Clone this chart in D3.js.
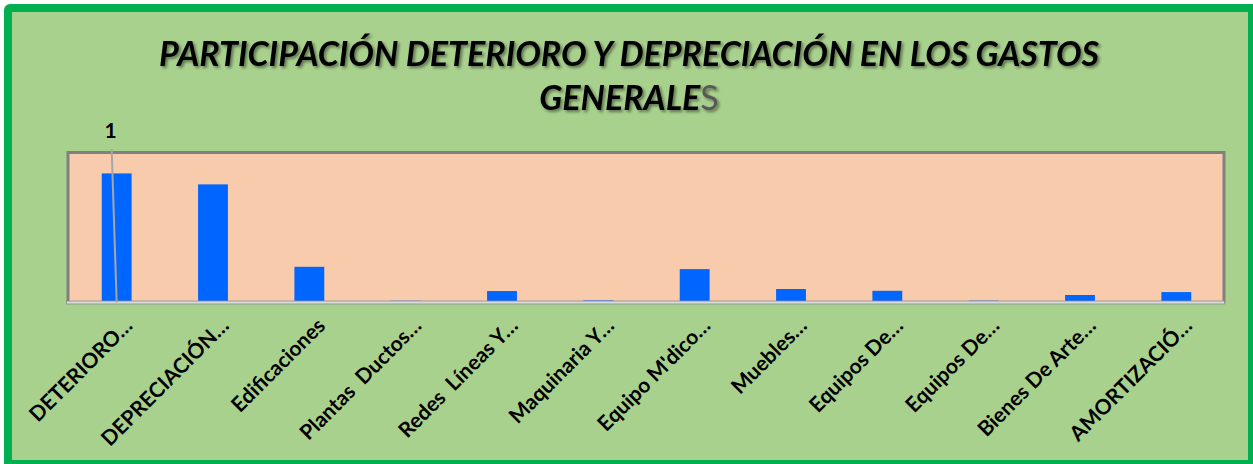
<!DOCTYPE html>
<html>
<head>
<meta charset="utf-8">
<script src="https://cdn.jsdelivr.net/npm/d3@7"></script>
<style>
  html, body { margin: 0; padding: 0; background: #fff; }
  svg { display: block; }
</style>
</head>
<body>
<div id="chart"></div>
<script>
const categories = [
  "DETERIORO…", "DEPRECIACIÓN…", "Edificaciones", "Plantas  Ductos…",
  "Redes  Líneas Y…", "Maquinaria Y…", "Equipo M'dico…", "Muebles…",
  "Equipos De…", "Equipos De…", "Bienes De Arte…", "AMORTIZACIÓ…"
];
const values = [1, 0.914, 0.268, 0.002, 0.078, 0.005, 0.25, 0.094, 0.08, 0.003, 0.047, 0.07];
const dataLabels = [{ index: 0, text: "1" }];
const yMax = 1.16;

const width = 1253, height = 464;
const plot = { left: 68.5, right: 1224.5, top: 153, bottom: 301 };
const font = "Lato, 'Open Sans', sans-serif";

const svg = d3.select("#chart").append("svg")
  .attr("width", width)
  .attr("height", height);

const defs = svg.append("defs");
const shadow = defs.append("filter").attr("id", "tshadow")
  .attr("x", "-5%").attr("y", "-20%").attr("width", "110%").attr("height", "150%");
shadow.append("feDropShadow")
  .attr("dx", 2).attr("dy", 2).attr("stdDeviation", 1.5)
  .attr("flood-color", "#000").attr("flood-opacity", 0.45);

// frame
svg.append("rect")
  .attr("x", 4).attr("y", 4).attr("width", 1256).attr("height", 466)
  .attr("rx", 6).attr("fill", "#00b050");
svg.append("rect")
  .attr("x", 12).attr("y", 12).attr("width", 1236).attr("height", 448)
  .attr("fill", "#a9d18e");

// title
const title = svg.append("text")
  .attr("text-anchor", "middle")
  .attr("font-family", font)
  .attr("font-weight", "bold")
  .attr("font-style", "italic")
  .attr("fill", "#000")
  .attr("filter", "url(#tshadow)");
const line1 = title.append("tspan")
  .attr("x", 629).attr("y", 66)
  .text("PARTICIPACIÓN DETERIORO Y DEPRECIACIÓN EN LOS GASTOS");
title.attr("font-size", 30);
const w1 = line1.node().getComputedTextLength();
const titleSize = 30 * 940 / w1;
title.attr("font-size", titleSize);

const title2 = svg.append("text")
  .attr("x", 629).attr("y", 110)
  .attr("text-anchor", "middle")
  .attr("font-family", font)
  .attr("font-size", titleSize)
  .attr("filter", "url(#tshadow)");
title2.append("tspan")
  .attr("font-weight", "bold").attr("font-style", "italic").attr("fill", "#000")
  .text("GENERALE");
title2.append("tspan")
  .attr("fill", "#595959")
  .text("S");

// plot area
const x = d3.scaleBand()
  .domain(d3.range(categories.length))
  .range([plot.left, plot.right])
  .paddingInner(0.69)
  .paddingOuter(0.345);

const y = d3.scaleLinear()
  .domain([0, yMax])
  .range([plot.bottom, plot.top]);

svg.append("rect")
  .attr("x", plot.left).attr("y", plot.top - 0.5)
  .attr("width", plot.right - plot.left).attr("height", plot.bottom - plot.top + 0.5)
  .attr("fill", "#f8cbad");

// border: thick grey top/left/right
svg.append("path")
  .attr("d", `M${plot.left - 0.5},${plot.bottom + 2}V${plot.top - 0.5}H${plot.right - 0.5}V${plot.bottom + 2}`)
  .attr("fill", "none")
  .attr("stroke", "#808080")
  .attr("stroke-width", 3);

// bars
svg.append("g")
  .selectAll("rect")
  .data(values)
  .join("rect")
  .attr("x", (d, i) => x(i))
  .attr("width", x.bandwidth())
  .attr("y", d => y(d))
  .attr("height", d => y(0) - y(d))
  .attr("fill", "#0066ff");

// category axis
const axis = svg.append("g")
  .attr("transform", `translate(0,${plot.bottom})`)
  .call(d3.axisBottom(x).tickSize(0).tickFormat(i => categories[i]));
axis.select(".domain").remove();
axis.append("rect")
  .attr("x", plot.left - 2).attr("y", 0)
  .attr("width", plot.right - plot.left + 2).attr("height", 3)
  .attr("fill", "#d9d9d9").attr("stroke", "#8c8c8c").attr("stroke-width", 0.8);
axis.selectAll(".tick text")
  .attr("font-family", font)
  .attr("font-size", 21)
  .attr("font-weight", "bold")
  .attr("fill", "#000")
  .attr("text-anchor", "end")
  .attr("dy", 0)
  .style("white-space", "pre")
  .attr("transform", "translate(15,24) rotate(-45)");

// data label with leader line
const lbl = svg.append("g");
dataLabels.forEach(dl => {
  const cx = x(dl.index) + x.bandwidth() / 2;
  lbl.append("line")
    .attr("x1", cx - 5).attr("y1", 149)
    .attr("x2", cx).attr("y2", y(0) + 1.5)
    .attr("stroke", "#a6a6a6").attr("stroke-width", 2);
  lbl.append("text")
    .attr("x", cx - 6).attr("y", 138)
    .attr("text-anchor", "middle")
    .attr("font-family", font)
    .attr("font-size", 21).attr("font-weight", "bold")
    .attr("fill", "#000")
    .text(dl.text);
});
</script>
</body>
</html>
